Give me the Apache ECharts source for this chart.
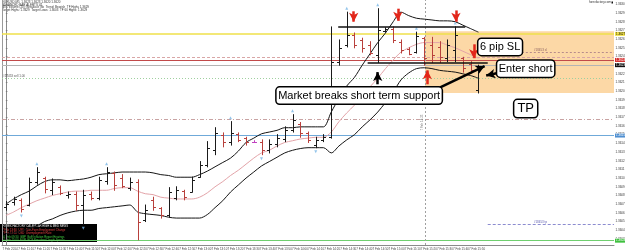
<!DOCTYPE html>
<html><head><meta charset="utf-8">
<script src="https://cdn.jsdelivr.net/npm/echarts@6/dist/echarts.min.js"></script>
<style>html,body{margin:0;padding:0;background:#fff}#c{width:625px;height:252px}</style>
</head><body><div id="c"></div>
<script>
// ---- OHLC bars (EURUSD M5) ----
const barOpen = [1.36067,1.36072,1.36075,1.36069,1.36096,1.36100,1.36086,1.36090,1.36080,1.36082,
1.36069,1.36082,1.36077,1.36097,1.36106,1.36100,1.36089,1.36096,1.36052,1.36075,
1.36066,1.36058,1.36077,1.36085,1.36084,1.36101,1.36115,1.36132,1.36150,1.36141,
1.36151,1.36146,1.36142,1.36142,1.36132,1.36139,1.36145,1.36155,1.36162,1.36152,
1.36138,1.36144,1.36147,1.36234,1.36253,1.36265,1.36259,1.36253,1.36242,1.36269,
1.36272,1.36257,1.36249,1.36245,1.36261,1.36253,1.36251,1.36238,1.36247,1.36238,
1.36231,1.36201];
const barHigh = [1.36073,1.36078,1.36076,1.36100,1.36112,1.36101,1.36099,1.36091,1.36084,1.36084,
1.36086,1.36084,1.36101,1.36112,1.36107,1.36104,1.36100,1.36098,1.36069,1.36078,
1.36066,1.36089,1.36090,1.36086,1.36101,1.36119,1.36142,1.36158,1.36152,1.36165,
1.36152,1.36147,1.36143,1.36144,1.36144,1.36150,1.36159,1.36173,1.36164,1.36153,
1.36147,1.36150,1.36274,1.36259,1.36291,1.36267,1.36261,1.36257,1.36295,1.36273,
1.36274,1.36259,1.36250,1.36268,1.36262,1.36262,1.36257,1.36259,1.36274,1.36239,
1.36234,1.36230];
const barLow = [1.36063,1.36069,1.36061,1.36068,1.36093,1.36083,1.36081,1.36081,1.36077,1.36063,
1.36047,1.36075,1.36075,1.36093,1.36086,1.36089,1.36086,1.36029,1.36050,1.36063,
1.36054,1.36055,1.36075,1.36075,1.36084,1.36101,1.36113,1.36127,1.36136,1.36138,
1.36142,1.36138,1.36141,1.36127,1.36129,1.36136,1.36142,1.36153,1.36147,1.36141,
1.36135,1.36142,1.36146,1.36230,1.36251,1.36250,1.36245,1.36242,1.36233,1.36268,
1.36256,1.36244,1.36242,1.36244,1.36230,1.36233,1.36233,1.36234,1.36234,1.36222,
1.36221,1.36198];
const barClose = [1.36070,1.36076,1.36065,1.36096,1.36107,1.36088,1.36095,1.36083,1.36082,1.36069,
1.36081,1.36077,1.36098,1.36107,1.36092,1.36091,1.36096,1.36050,1.36063,1.36067,
1.36058,1.36084,1.36086,1.36078,1.36098,1.36115,1.36135,1.36152,1.36141,1.36152,
1.36144,1.36141,1.36142,1.36132,1.36139,1.36146,1.36155,1.36167,1.36152,1.36144,
1.36144,1.36147,1.36234,1.36250,1.36265,1.36253,1.36250,1.36244,1.36270,1.36272,
1.36259,1.36247,1.36243,1.36264,1.36238,1.36242,1.36239,1.36253,1.36265,1.36227,
1.36224,1.36227];

// ---- Bollinger bands ----
const bandUpper = [1.36070,1.36076,1.36081,1.36085,1.36091,1.36096,1.36098,1.36098,1.36097,1.36098,
1.36099,1.36101,1.36104,1.36105,1.36106,1.36107,1.36107,1.36107,1.36107,1.36106,
1.36104,1.36103,1.36101,1.36101,1.36101,1.36104,1.36108,1.36113,1.36118,1.36123,
1.36131,1.36141,1.36146,1.36151,1.36153,1.36155,1.36158,1.36158,1.36159,1.36159,
1.36159,1.36159,1.36176,1.36192,1.36206,1.36216,1.36230,1.36243,1.36256,1.36267,
1.36280,1.36291,1.36287,1.36284,1.36283,1.36282,1.36281,1.36281,1.36280,1.36276,
1.36272,1.36268];
const bandMiddle = [1.36057,1.36061,1.36066,1.36070,1.36074,1.36077,1.36080,1.36082,1.36084,1.36085,
1.36085,1.36086,1.36086,1.36086,1.36088,1.36089,1.36089,1.36085,1.36082,1.36081,
1.36078,1.36077,1.36076,1.36076,1.36076,1.36078,1.36083,1.36090,1.36096,1.36103,
1.36109,1.36116,1.36123,1.36129,1.36132,1.36137,1.36141,1.36143,1.36145,1.36146,
1.36147,1.36147,1.36153,1.36165,1.36175,1.36184,1.36195,1.36205,1.36215,1.36226,
1.36236,1.36245,1.36250,1.36254,1.36256,1.36256,1.36256,1.36253,1.36250,1.36246,
1.36242,1.36238];
const bandLower = [1.36036,1.36037,1.36039,1.36042,1.36045,1.36050,1.36053,1.36057,1.36060,1.36062,
1.36063,1.36063,1.36065,1.36066,1.36067,1.36068,1.36069,1.36061,1.36059,1.36058,
1.36057,1.36055,1.36054,1.36054,1.36054,1.36054,1.36058,1.36066,1.36074,1.36084,
1.36092,1.36100,1.36107,1.36114,1.36119,1.36124,1.36129,1.36132,1.36134,1.36135,
1.36135,1.36135,1.36129,1.36137,1.36144,1.36150,1.36159,1.36167,1.36176,1.36187,
1.36199,1.36213,1.36221,1.36226,1.36227,1.36226,1.36224,1.36223,1.36222,1.36220,
1.36218,1.36215];

// ---- fractal markers (bar indices) ----
const fractalUp = [4,13,29,37,44,48,53,58];
const fractalDown = [2,10,33,40];

// ---- time axis labels ----
const timeLabels = ["7 Feb 2014","7 Feb 11:10","7 Feb 11:20","7 Feb 11:30","7 Feb 11:40","7 Feb 11:50",
"7 Feb 12:00","7 Feb 12:10","7 Feb 12:20","7 Feb 12:30","7 Feb 12:40","7 Feb 12:50",
"7 Feb 13:00","7 Feb 13:10","7 Feb 13:20","7 Feb 13:30","7 Feb 13:40","7 Feb 13:50",
"7 Feb 14:00","7 Feb 14:10","7 Feb 14:20","7 Feb 14:30","7 Feb 14:40","7 Feb 14:50",
"7 Feb 15:00","7 Feb 15:10","7 Feb 15:20","7 Feb 15:30","7 Feb 15:40","7 Feb 15:50"];

// ---- horizontal price levels ----
const levelPrices = [1.36266, 1.36239, 1.36236, 1.36230, 1.36215, 1.36168, 1.36149, 1.36028];
const slLevel = 1.36245, slFrom = 66.6;
const tpOrderLevel = 1.36047, tpOrderFrom = 62.2;
const zoneTop = 1.36269, zoneBottom = 1.36198, zoneFrom = 54.1;
const timeMarker = 54.1;
// resistance / support drawn lines [fromBar, toBar, price]
const resistance = [42.9, 59.3, 1.36274];
const support = [46.7, 62.2, 1.36233];
// arrows: [bar, fromPrice, toPrice]
const redArrows = [[44.9,1.36292,1.36280],[50.6,1.36295,1.36281],[58.1,1.36293,1.36280],[60.4,1.36254,1.36238],[54.4,1.36208,1.36224]];
const blackArrows = [[48.0,1.36208,1.36222]];
// callouts: [text, bar, price]
const callouts = [["6 pip SL",63.8,1.36251],["Enter short",67.1,1.36226],["Market breaks short term support",45.6,1.36195],["TP",67.1,1.36180]];
const calloutArrows = [[56.0,1.36204,61.8,1.36229],[63.5,1.36221,62.0,1.36218]];

const yMin = 1.36023, yMax = 1.36305, nSlots = 79;

const chart = echarts.init(document.getElementById('c'), null, {renderer:'canvas'});

const levelStyles = [
  {color:'#efe04a', width:1.5, type:'solid', tag:['#f2e24a','#000']},
  {color:'#d9a6a6', width:1, type:[3,2]},
  {color:'#c24a4a', width:1, type:'solid', tag:['#d42a2a','#fff']},
  {color:'#b4b4b4', width:1, type:'solid', tag:['#111','#fff']},
  {color:'#9fd09f', width:1, type:[1,2], start:'#18453 sell 1.00'},
  {color:'#c9a3a3', width:1, type:[4,2,1,2]},
  {color:'#6fa9d9', width:1.2, type:'solid', tag:['#4f8fd0','#fff']},
  {color:'#6fcf6f', width:1.2, type:'solid', tag:['#3fc03f','#fff']}
];

const xLeft = -0.5, xRight = nSlots - 0.5;
const levelLines = levelPrices.map((p, k) => {
  const s = levelStyles[k];
  const ls = {color: s.color, width: s.width, type: s.type};
  const a = {coord: [xLeft, p], lineStyle: ls};
  if (s.tag) a.label = {show:true, position:'end', distance:1, formatter: p.toFixed(4), fontSize:3,
    color: s.tag[1], backgroundColor: s.tag[0], padding:[0.5,1]};
  if (s.start) a.label = {show:true, position:'insideStartTop', distance:[1,0.5], formatter: s.start, fontSize:3, color:'#555'};
  return [a, {coord: [xRight, p], lineStyle: ls}];
});
levelLines.push([
  {coord:[slFrom, slLevel], lineStyle:{color:'#b78b8b', width:1, type:[2,2]},
   label:{show:true, position:'insideStartTop', distance:[12,0.5], formatter:'#18453 sl', fontSize:3, color:'#8a6060'}},
  {coord:[xRight, slLevel], lineStyle:{color:'#b78b8b', width:1, type:[2,2]}}
]);
levelLines.push([
  {coord:[tpOrderFrom, tpOrderLevel], lineStyle:{color:'#8c8cd0', width:1, type:[3,2]},
   label:{show:true, position:'insideStartTop', distance:[46,0.5], formatter:'#18453 tp', fontSize:3, color:'#6060b0'}},
  {coord:[xRight, tpOrderLevel], lineStyle:{color:'#8c8cd0', width:1, type:[3,2]}}
]);
levelLines.push({xAxis: timeMarker, lineStyle:{color:'#a0a0a0', width:1, type:[2,2]},
  label:{show:true, position:'middle', formatter:'7 Feb 14:25', fontSize:3, color:'#777', distance:1}});

function arrowItem(x1, y1, x2, y2, color, width) {
  const ls = {color: color, width: width, type:'solid'};
  return [{coord:[x1,y1], symbol:'none', lineStyle: ls},
          {coord:[x2,y2], symbol:'arrow', symbolSize:[7,9], lineStyle: ls}];
}
function segItem(x1, x2, p) {
  const ls = {color:'#111', width:1.5, type:'solid'};
  return [{coord:[x1,p], symbol:'none', lineStyle: ls}, {coord:[x2,p], symbol:'none', lineStyle: ls}];
}
const annLines = [];
annLines.push(segItem(resistance[0], resistance[1], resistance[2]));
annLines.push(segItem(support[0], support[1], support[2]));
redArrows.forEach(a => annLines.push(arrowItem(a[0], a[1], a[0], a[2], '#e2261a', 2.5)));
blackArrows.forEach(a => annLines.push(arrowItem(a[0], a[1], a[0], a[2], '#000', 2.5)));
calloutArrows.forEach(a => annLines.push(arrowItem(a[0], a[1], a[2], a[3], '#000', 2.5)));

const boxes = callouts.map(c => ({name: c[0], coord: [c[1], c[2]],
  label: {fontSize: c[0] === 'TP' ? 13 : 11, padding: c[0] === 'TP' ? [2,3] : [2.5,1.5]}}));

const ohlcData = barOpen.map((o, i) => [i, o, barHigh[i], barLow[i], barClose[i]]);

const option = {
  animation: false,
  backgroundColor: '#fff',
  textStyle: {fontFamily: 'Liberation Sans, Arial, sans-serif'},
  grid: {left: 2, right: 11, top: 0, bottom: 7, containLabel: false, outerBoundsMode: 'none'},
  xAxis: [
    {type:'value', min:xLeft, max:xRight, axisLine:{show:true, onZero:false, lineStyle:{color:'#8a8a8a', width:1}},
     axisTick:{show:false}, axisLabel:{show:false}, splitLine:{show:false}},
    {type:'category', position:'bottom', data: timeLabels.concat(Array(38 - timeLabels.length).fill('')),
     boundaryGap:true, axisLine:{show:false}, axisTick:{show:false},
     axisLabel:{interval:0, fontSize:3, color:'#444', margin:2.5}, splitLine:{show:false}}
  ],
  yAxis: [
    {type:'value', position:'right', min:yMin, max:yMax, splitNumber:28,
     axisLine:{show:true, lineStyle:{color:'#8a8a8a'}}, axisTick:{show:true, length:1.5, lineStyle:{color:'#777'}},
     axisLabel:{fontSize:3, color:'#333', margin:1.5, showMinLabel:false, showMaxLabel:false, formatter: v => v.toFixed(4)},
     splitLine:{show:false}},
    {type:'value', position:'left', min:yMin, max:yMax, axisLine:{show:true, lineStyle:{color:'#9a9a9a'}},
     axisTick:{show:false}, axisLabel:{show:false}, splitLine:{show:false}}
  ],
  series: [
    {type:'line', name:'levels', data:[], z:1,
     markArea:{silent:true, z:0, itemStyle:{color:'#fcd8a6'},
       data:[[{xAxis: zoneFrom, yAxis: zoneTop}, {yAxis: zoneBottom}]]},
     markLine:{silent:true, z:1, symbol:['none','none'], label:{show:false}, data: levelLines}},
    {type:'line', name:'Upper', data: bandUpper.map((v,i)=>[i,v]), symbol:'none', smooth:0.3, z:2,
     lineStyle:{color:'#151515', width:1}},
    {type:'line', name:'Middle', data: bandMiddle.map((v,i)=>[i,v]), symbol:'none', smooth:0.3, z:2,
     lineStyle:{color:'#e3a3a8', width:1}},
    {type:'line', name:'Lower', data: bandLower.map((v,i)=>[i,v]), symbol:'none', smooth:0.3, z:2,
     lineStyle:{color:'#151515', width:1}},
    {type:'custom', name:'EURUSD', data: ohlcData, z:3, encode:{x:0, y:[1,2,3,4]},
     renderItem: function(params, api) {
       const i = api.value(0);
       const o = api.coord([i, api.value(1)]);
       const h = api.coord([i, api.value(2)]);
       const l = api.coord([i, api.value(3)]);
       const c = api.coord([i, api.value(4)]);
       const w = api.size([1, 0])[0] * 0.32;
       const op = api.value(1), cl = api.value(4);
       const color = op === cl ? '#c040c0' : (cl > op ? '#1a1a1a' : '#b8403c');
       const x = Math.round(h[0]) + 0.5;
       const st = {stroke: color, lineWidth: 1};
       return {type:'group', children:[
         {type:'line', shape:{x1:x, y1:h[1]-0.5, x2:x, y2:l[1]+0.5}, style: st},
         {type:'line', shape:{x1:x-w, y1:Math.round(o[1])+0.5, x2:x, y2:Math.round(o[1])+0.5}, style: st},
         {type:'line', shape:{x1:x, y1:Math.round(c[1])+0.5, x2:x+w, y2:Math.round(c[1])+0.5}, style: st}
       ]};
     }},
    {type:'scatter', name:'fractalUp', data: fractalUp.map(i => [i, barHigh[i]]), symbol:'triangle',
     symbolSize:[3,3], symbolOffset:[0,-4], itemStyle:{color:'#79b6e6'}, z:3, silent:true},
    {type:'scatter', name:'fractalDown', data: fractalDown.map(i => [i, barLow[i]]), symbol:'path://M0,0L10,0L5,8Z',
     symbolSize:[3,3], symbolOffset:[0,4], itemStyle:{color:'#79b6e6'}, z:3, silent:true},
    {type:'line', name:'notes', data:[], z:6,
     markLine:{silent:true, z:6, symbol:['none','none'], label:{show:false}, data: annLines},
     markPoint:{silent:true, z:10, symbol:'circle', symbolSize:1, itemStyle:{color:'rgba(0,0,0,0)'},
       label:{show:true, position:'inside', formatter:'{b}', color:'#000', fontSize:11,
         fontFamily:'Liberation Sans, Arial, sans-serif', backgroundColor:'#fff', borderColor:'#000',
         borderWidth:1.5, borderRadius:3, padding:[2.5,1.5]},
       data: boxes}}
  ],
  graphic: [
    {type:'text', left:2, top:0.5, silent:true, style:{text:
      'EURUSD,M5  1.3623 1.3623 1.3620 1.3620\nADVANCED BAR ALERTS V1\nATR Volume (20): Breakout: No  Trend: Bearish  TF Highs 1.3629\nTarget Highs: 1.3629  Target Lows: 1.3603  TF 60 Highs: 1.3629',
      fontSize:3, lineHeight:2.8, fill:'#333', fontFamily:'Liberation Sans'}},
    {type:'text', right:14, top:1, silent:true, style:{text:'forexfactory.com', fontSize:3, fill:'#333', fontFamily:'Liberation Sans'}},
    {type:'rect', right:12, top:1.5, silent:true, shape:{width:1.5, height:2}, style:{fill:'#111'}},
    {type:'group', left:0, top:224, silent:true, children:[
      {type:'rect', shape:{x:0, y:0, width:97, height:18}, style:{fill:'#000'}},
      {type:'text', x:2, y:1, style:{text:'FOREX FACTORY CALENDAR HIGH & MED NEWS', fontSize:2.8, fill:'#eee'}},
      {type:'text', x:2, y:4.5, style:{text:'7 Feb 13:30  USD  Non-Farm Employment Change', fontSize:2.8, fill:'#e04040'}},
      {type:'text', x:2, y:8, style:{text:'7 Feb 13:30  USD  Unemployment Rate', fontSize:2.8, fill:'#e04040'}},
      {type:'text', x:2, y:11.5, style:{text:'10 Feb 09:30  GBP  BoE Inflation Report Hearings', fontSize:2.8, fill:'#40d040'}},
      {type:'text', x:2, y:15, style:{text:'10 Feb 15:00  EUR  ECB President Draghi Speaks', fontSize:2.8, fill:'#40d040'}}
    ]}
  ]
};
chart.setOption(option);
</script>
</body></html>
